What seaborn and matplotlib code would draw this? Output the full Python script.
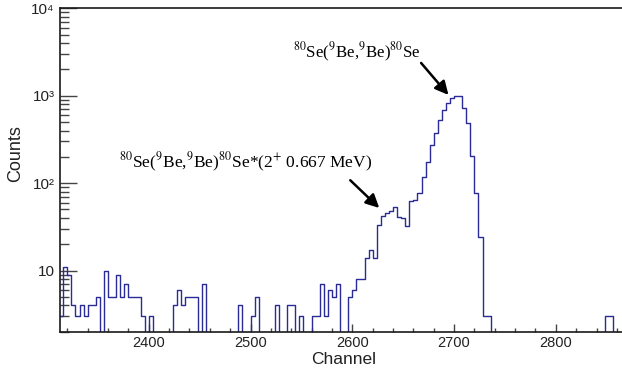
import numpy as np
import pandas as pd
import matplotlib
matplotlib.use("Agg")
import matplotlib.pyplot as plt
import seaborn as sns
from matplotlib.ticker import FixedLocator, FixedFormatter, MultipleLocator, NullFormatter

# ---- data -------------------------------------------------------------
bin_start = 2312          # first bin lower edge (channel)
bin_width = 4             # channels per bin
counts = [
    3, 11, 9, 4, 3, 4, 3, 4, 4, 5,          # 2312-2351
    0, 10, 5, 5, 9, 5, 7, 5, 5, 5,          # 2352-2391
    3, 0, 3, 0, 0, 0, 0, 0, 4, 6,           # 2392-2431
    4, 5, 5, 5, 0, 7, 0, 0, 0, 0,           # 2432-2471
    0, 0, 0, 0, 4, 0, 0, 3, 5, 0,           # 2472-2511
    0, 0, 0, 4, 0, 0, 4, 4, 0, 3,           # 2512-2551
    0, 0, 3, 3, 7, 3, 6, 5, 7, 0,           # 2552-2591
    0, 5, 6, 8, 8, 14, 17, 14, 33, 42,      # 2592-2631
    46, 48, 53, 41, 40, 32, 62, 64, 78, 118,  # 2632-2671
    176, 273, 378, 527, 687, 820, 930, 990, 1000, 730,  # 2672-2711
    483, 205, 77, 24, 3, 3, 0, 0, 0, 0,     # 2712-2751
    0, 0, 0, 0, 0, 0, 0, 0, 0, 0,           # 2752-2791
    0, 0, 0, 0, 0, 0, 0, 0, 0, 0,           # 2792-2831
    0, 0, 0, 0, 3, 3, 0, 0, 0, 0,           # 2832-2871
]
x_ticks = [2400, 2500, 2600, 2700, 2800]
y_ticks = [10, 100, 1000, 10000]
y_tick_labels = ["10", "10\u00b2", "10\u00b3", "10\u2074"]
label_main = r"$^{80}$Se($^{9}$Be,$^{9}$Be)$^{80}$Se"
label_exc = r"$^{80}$Se($^{9}$Be,$^{9}$Be)$^{80}$Se*(2$^{+}$ 0.667 MeV)"
arrow_main = ((2667.6, 2370), (2694.5, 1020))   # (start, tip)
arrow_exc = ((2598.0, 108), (2626.5, 52))
text_main_pos = (2605.0, 2700)
text_exc_pos = (2495.5, 148)

edges = [bin_start + bin_width * i for i in range(len(counts) + 1)]
centers = [e + bin_width / 2 for e in edges[:-1]]
df = pd.DataFrame({"channel": centers, "counts": counts})

# ---- style -------------------------------------------------------------
sns.set_style("ticks")
plt.rcParams["font.family"] = ["Liberation Sans", "DejaVu Sans"]
plt.rcParams["mathtext.fontset"] = "stix"

fig = plt.figure(figsize=(6.22, 3.75), dpi=100)
ax = fig.add_axes([60 / 622, 1 - 331.7 / 375, 562 / 622, 323.4 / 375])

line_color = "#2b2b98"
sns.histplot(data=df, x="channel", weights="counts", bins=edges,
             element="step", fill=False, color=line_color, linewidth=1.0,
             ax=ax)
ax.set_yscale("log", nonpositive="clip")
ax.set_xlim(2312.8, 2865)
ax.set_ylim(2.0, 10000)

# spines
for s in ["left", "bottom", "top"]:
    ax.spines[s].set_color("#1a1a1a")
    ax.spines[s].set_linewidth(1.2)
ax.spines["right"].set_visible(False)

# ticks
ax.xaxis.set_major_locator(FixedLocator(x_ticks))
ax.xaxis.set_minor_locator(MultipleLocator(20))
ax.yaxis.set_major_locator(FixedLocator(y_ticks))
ax.yaxis.set_major_formatter(FixedFormatter(y_tick_labels))
minor_y = [m * 10 ** e for e in range(0, 4) for m in range(2, 10)]
ax.yaxis.set_minor_locator(FixedLocator(minor_y))
ax.yaxis.set_minor_formatter(NullFormatter())

ax.tick_params(axis="x", which="major", direction="in", length=6, width=1,
               color="#444444", labelsize=10.5, pad=3, labelcolor="#222222",
               top=False)
ax.tick_params(axis="x", which="minor", direction="in", length=3, width=1,
               color="#444444", top=False)
ax.tick_params(axis="y", which="major", direction="in", length=12.5, width=1,
               color="#444444", labelsize=11, pad=4, labelcolor="#222222",
               right=False)
ax.tick_params(axis="y", which="minor", direction="in", length=6.5, width=1,
               color="#444444", right=False)

ax.set_xlabel("Channel", fontsize=12.5, color="#222222")
ax.set_ylabel("Counts", fontsize=13, color="#222222")
ax.xaxis.set_label_coords((343.5 - 60) / 562, (331.7 - 352) / 323.4)
ax.yaxis.set_label_coords((24 - 60) / 562, (331.7 - 154) / 323.4)

# annotations
serif = ["Liberation Serif", "DejaVu Serif"]
ax.text(*text_main_pos, label_main, ha="center", va="baseline",
        fontsize=12.2, family=serif, color="black")
ax.text(*text_exc_pos, label_exc, ha="center", va="baseline",
        fontsize=12.5, family=serif, color="black")
for start, tip in [arrow_main, arrow_exc]:
    ax.annotate("", xy=tip, xytext=start, xycoords="data",
                arrowprops=dict(arrowstyle="-|>", color="black", lw=1.8,
                                mutation_scale=20, shrinkA=0, shrinkB=0))

fig.savefig("out.png", dpi=100)
